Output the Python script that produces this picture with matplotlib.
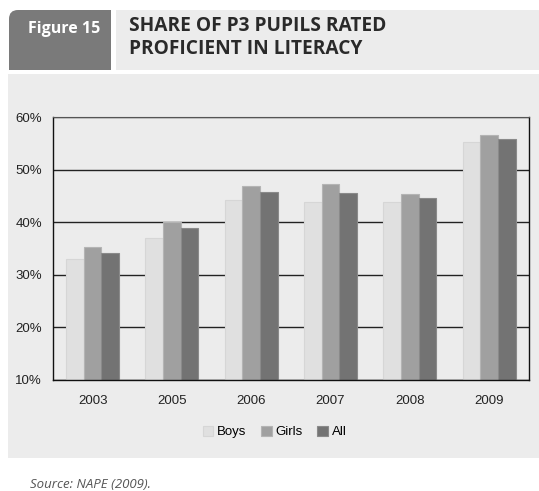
import matplotlib.pyplot as plt
import numpy as np
from matplotlib.patches import Rectangle, FancyBboxPatch

years = ['2003', '2005', '2006', '2007', '2008', '2009']
boys = [33.1, 37.0, 44.3, 43.9, 43.9, 55.3]
girls = [35.4, 40.0, 47.0, 47.3, 45.4, 56.6]
all_pupils = [34.2, 39.0, 45.7, 45.6, 44.6, 55.9]
series_names = ['Boys', 'Girls', 'All']
yticks = [10, 20, 30, 40, 50, 60]

W, H = 539, 491
fig = plt.figure(figsize=(W / 100, H / 100), dpi=100)
fig.patch.set_facecolor('white')

# background layer in pixel coords
bg = fig.add_axes([0, 0, 1, 1], zorder=0)
bg.set_xlim(0, W)
bg.set_ylim(H, 0)
bg.axis('off')

# dark "Figure 15" tab, rounded top-left
bg.add_patch(FancyBboxPatch((9, 10), 102, 60, boxstyle='round,pad=0,rounding_size=9',
                            fc='#7a7a7a', ec='none'))
bg.add_patch(Rectangle((60, 10), 51, 60, fc='#7a7a7a', ec='none'))
bg.add_patch(Rectangle((9, 40), 102, 30, fc='#7a7a7a', ec='none'))
# title box, rounded top-right
bg.add_patch(FancyBboxPatch((116, 10), 430, 60, boxstyle='round,pad=0,rounding_size=9',
                            fc='#ececec', ec='none'))
bg.add_patch(Rectangle((116, 10), 200, 60, fc='#ececec', ec='none'))
bg.add_patch(Rectangle((116, 40), 430, 30, fc='#ececec', ec='none'))
# chart panel
bg.add_patch(Rectangle((8, 74), 540, 384, fc='#ececec', ec='none'))

bg.text(64, 29, 'Figure 15', color='white', fontsize=11.5, fontweight='bold',
        family='Open Sans', ha='center', va='center')
bg.text(129, 26, 'SHARE OF P3 PUPILS RATED', color='#2a2a2a', fontsize=13.8,
        family='Open Sans', fontweight='bold', ha='left', va='center')
bg.text(129, 49, 'PROFICIENT IN LITERACY', color='#2a2a2a', fontsize=13.8,
        family='Open Sans', fontweight='bold', ha='left', va='center')
bg.text(30, 485, 'Source: NAPE (2009).', color='#555555', fontsize=9.5,
        family='Open Sans', style='italic', ha='left', va='center')

# chart
ax = fig.add_axes([53 / W, (H - 380) / H, (528.7 - 53) / W, (380 - 117.3) / H], zorder=1)
ax.set_facecolor('none')

x = np.arange(len(years))
bw = 0.223
colors = ['#e0e0e0', '#a0a0a0', '#737373']
edges = ['#d6d6d6', '#b4b4b4', '#8a8a8a']
for i, vals in enumerate([boys, girls, all_pupils]):
    ax.bar(x + (i - 1) * bw, np.array(vals) - 10, bottom=10, width=bw,
           color=colors[i], edgecolor=edges[i], linewidth=0.8, label=series_names[i])

ax.set_ylim(10, 60)
ax.set_xlim(-0.5, len(years) - 0.5)
ax.set_yticks(yticks)
ax.set_yticklabels([f'{v}%' for v in yticks], family='Liberation Sans', fontsize=9.5, color='#222222')
ax.set_xticks(x)
ax.set_xticklabels(years, family='Liberation Sans', fontsize=9.5, color='#222222')
ax.tick_params(length=0)
ax.tick_params(axis='y', pad=8)
ax.tick_params(axis='x', pad=11)
ax.set_axisbelow(True)
ax.yaxis.grid(True, color='#222222', linewidth=1.0)
for s in ['left', 'right', 'bottom']:
    ax.spines[s].set_color('#111111')
    ax.spines[s].set_linewidth(1.0)
ax.spines['top'].set_color('#555555')

leg = ax.legend(loc='center', bbox_to_anchor=(0.466, -0.198), ncol=3, frameon=False,
                prop={'family': 'Liberation Sans', 'size': 9.5},
                handlelength=0.8, handleheight=0.8, handletextpad=0.3, columnspacing=1.1)

fig.savefig('out.png', dpi=100)
